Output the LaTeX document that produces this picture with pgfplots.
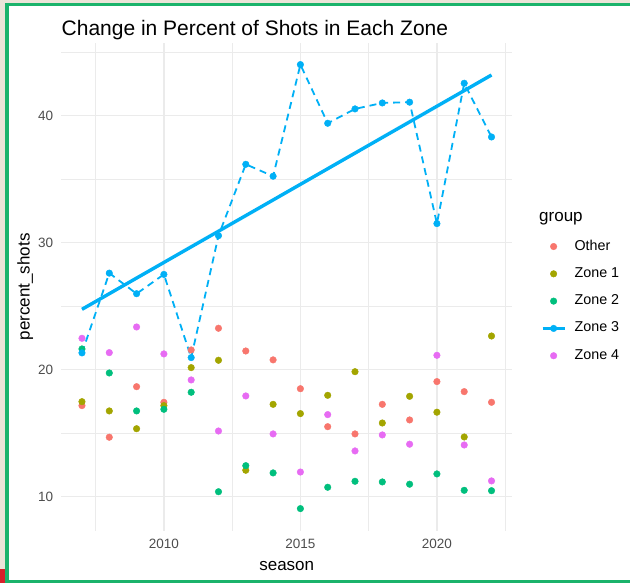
\documentclass[border=0pt]{standalone}
\usepackage{fontspec}
\setmainfont{Liberation Sans}
\usepackage{pgfplots}
\pgfplotsset{compat=1.18}

\definecolor{cOther}{HTML}{F8766D}
\definecolor{cZa}{HTML}{A3A500}
\definecolor{cZb}{HTML}{00BF7D}
\definecolor{cZc}{HTML}{00B0F6}
\definecolor{cZd}{HTML}{E76BF3}
\definecolor{grid92}{HTML}{EBEBEB}
\definecolor{tickgray}{HTML}{4D4D4D}
\definecolor{frame}{HTML}{1BB36B}
\definecolor{beige}{HTML}{EBE4D8}
\definecolor{cornerred}{HTML}{D7212B}

\newcommand\fs[1]{\fontsize{#1}{#1}\selectfont}

\begin{document}
\begin{tikzpicture}
\useasboundingbox (0pt,0pt) rectangle (630pt,582pt);
% screenshot frame (left, top and bottom edges only)
\fill[white] (-2pt,-2pt) rectangle (632pt,584pt);
\fill[beige] (-2pt,-2pt) rectangle (4.7pt,584pt);
\fill[beige] (-2pt,579.3pt) rectangle (632pt,584pt);
\fill[frame] (4.7pt,-2pt) rectangle (8.7pt,579.3pt);
\fill[frame] (4.7pt,576pt) rectangle (632pt,579.3pt);
\fill[frame] (4.7pt,-2pt) rectangle (632pt,2.3pt);
\fill[cornerred] (-2pt,-2pt) rectangle (4.7pt,13pt);

\begin{axis}[
    at={(61.5pt,51.3pt)}, anchor=south west,
    scale only axis,
    width=450.5pt, height=487.7pt,
    xmin=2006.25, xmax=2022.75,
    ymin=7.32, ymax=45.72,
    xtick={2010,2015,2020},
    ytick={10,20,30,40},
    minor xtick={2007.5,2012.5,2017.5,2022.5},
    minor ytick={15,25,35,45},
    grid=both,
    major grid style={color=grid92, line width=1.5pt},
    minor grid style={color=grid92, line width=0.75pt},
    axis line style={draw=none},
    tick style={draw=none},
    major tick length=0pt, minor tick length=0pt,
    /pgf/number format/assume math mode=true,
    /pgf/number format/set thousands separator={},
    tick label style={font=\fs{13.5}, text=tickgray},
    yticklabel style={inner sep=0pt, xshift=-8.2pt},
    xticklabel style={inner sep=0pt, yshift=-8.3pt},
    xlabel={season}, ylabel={percent\_shots},
    every axis x label/.style={at={(axis description cs:0.5,-0.0816)}, anchor=base, font=\fs{17}},
    every axis y label/.style={at={(axis description cs:-0.0706,0.5)}, rotate=90, anchor=base, font=\fs{17}},
    legend cell align=left,
    legend style={draw=none, fill=none, inner sep=0pt, outer sep=0pt,
        at={(axis description cs:1.0644,0.596)}, anchor=north west,
        font=\fs{14.3}, row sep=14.3pt, column sep=0pt,
        nodes={inner sep=0pt, text height=10pt, text depth=3pt}},
    legend image code/.code={
        \path[draw=none, fill=none] (0pt,-4pt) rectangle (32pt,4pt);
        \fill (11pt,0pt) circle (3.3pt);
    },
]
\addplot[only marks, mark=*, mark size=3.3pt, color=cOther] coordinates {
 (2007,17.17) (2008,14.68) (2009,18.66) (2010,17.43) (2011,21.55) (2012,23.26)
 (2013,21.47) (2014,20.77) (2015,18.50) (2016,15.51) (2017,14.94) (2018,17.27)
 (2019,16.04) (2020,19.06) (2021,18.27) (2022,17.43)
};
\addlegendentry{Other}
\addplot[only marks, mark=*, mark size=3.3pt, color=cZa] coordinates {
 (2007,17.48) (2008,16.75) (2009,15.35) (2010,17.17) (2011,20.16) (2012,20.74)
 (2013,12.08) (2014,17.27) (2015,16.54) (2016,17.98) (2017,19.84) (2018,15.80)
 (2019,17.90) (2020,16.65) (2021,14.70) (2022,22.65)
};
\addlegendentry{Zone 1}
\addplot[only marks, mark=*, mark size=3.3pt, color=cZb] coordinates {
 (2007,21.63) (2008,19.74) (2009,16.75) (2010,16.88) (2011,18.22) (2012,10.39)
 (2013,12.44) (2014,11.87) (2015,9.06) (2016,10.74) (2017,11.21) (2018,11.16)
 (2019,10.98) (2020,11.79) (2021,10.50) (2022,10.47)
};
\addlegendentry{Zone 2}
\addplot[only marks, mark=*, mark size=3.3pt, color=cZc,
    legend image code/.code={
        \path[draw=none, fill=none] (0pt,-4pt) rectangle (32pt,4pt);
        \draw[line width=3.2pt] (0pt,0pt) -- (22pt,0pt);
        \fill (11pt,0pt) circle (3.3pt);
    }] coordinates {
 (2007,21.32) (2008,27.60) (2009,25.98) (2010,27.50) (2011,20.95) (2012,30.55)
 (2013,36.17) (2014,35.23) (2015,44.02) (2016,39.40) (2017,40.53) (2018,41.00)
 (2019,41.06) (2020,31.50) (2021,42.55) (2022,38.32)
};
\addlegendentry{Zone 3}
\addplot[only marks, mark=*, mark size=3.3pt, color=cZd] coordinates {
 (2007,22.47) (2008,21.34) (2009,23.36) (2010,21.24) (2011,19.19) (2012,15.17)
 (2013,17.93) (2014,14.94) (2015,11.94) (2016,16.46) (2017,13.60) (2018,14.86)
 (2019,14.13) (2020,21.13) (2021,14.07) (2022,11.24)
};
\addlegendentry{Zone 4}
% Zone 3 connecting line
\addplot[forget plot, color=cZc, line width=1.8pt, dash pattern=on 7pt off 5pt] coordinates {
 (2007,21.32) (2008,27.60) (2009,25.98) (2010,27.50) (2011,20.95) (2012,30.55)
 (2013,36.17) (2014,35.23) (2015,44.02) (2016,39.40) (2017,40.53) (2018,41.00)
 (2019,41.06) (2020,31.50) (2021,42.55) (2022,38.32)
};
% Zone 3 linear fit
\addplot[forget plot, color=cZc, line width=3.4pt] coordinates {
 (2007,24.75) (2022,43.20)
};
\end{axis}

\node[anchor=base west, inner sep=0pt, font=\fs{21}] at (61.5pt,546pt) {Change in Percent of Shots in Each Zone};
\node[anchor=base west, inner sep=0pt, font=\fs{17}] at (539pt,360pt) {group};
\end{tikzpicture}
\end{document}
